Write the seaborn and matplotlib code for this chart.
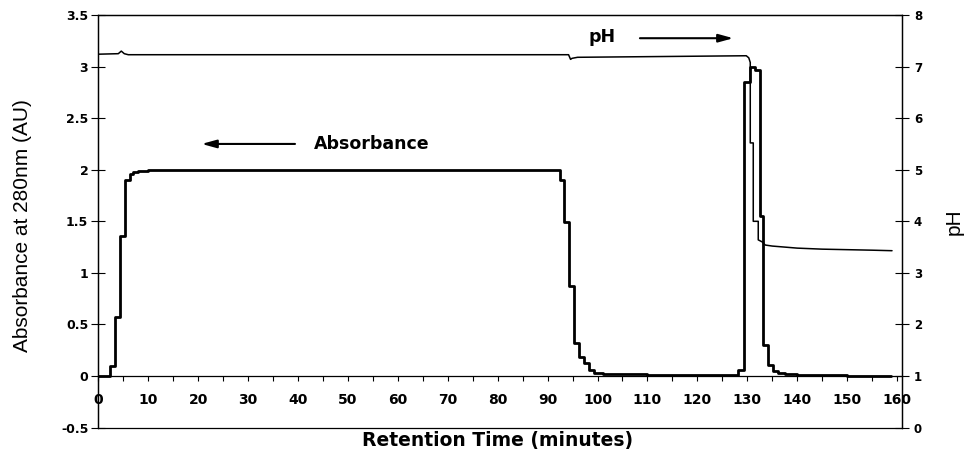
import numpy as np
import pandas as pd
import seaborn as sns
import matplotlib.pyplot as plt
from matplotlib.ticker import MultipleLocator, FixedLocator

# Absorbance at 280nm (AU), step trace: value holds from each time to the next
abs_time = [0, 2.3, 3.3, 4.3, 5.3, 6.3, 7.0, 8.0, 10.0, 13.0,
            92.4, 93.2, 94.2, 95.2, 96.2, 97.2, 98.2, 99.2, 101, 110, 120,
            128.2, 129.4, 130.6, 131.6, 132.6, 133.2, 134.2, 135.2, 136.2,
            137.5, 140, 150, 158.8]
abs_value = [0.0, 0.1, 0.57, 1.36, 1.90, 1.96, 1.975, 1.985, 1.995, 2.0,
             1.90, 1.49, 0.87, 0.32, 0.18, 0.125, 0.06, 0.025, 0.015, 0.01, 0.01,
             0.06, 2.85, 3.0, 2.97, 1.55, 0.30, 0.11, 0.05, 0.03,
             0.015, 0.01, 0.005, 0.005]

# pH trace
ph_time = [0, 4.0, 4.6, 5.2, 6.0, 94.2, 94.6, 94.9, 96.0, 129.8, 130.3, 130.6,
           130.6, 131.2, 131.2, 132.2, 132.2, 133.0, 133.6, 135, 140, 145, 150, 155, 159]
ph_value = [7.24, 7.25, 7.30, 7.25, 7.23, 7.23, 7.14, 7.16, 7.18, 7.21, 7.17, 7.08,
            5.52, 5.52, 4.00, 4.00, 3.64, 3.60, 3.54, 3.52, 3.48, 3.46, 3.45, 3.44, 3.43]

abs_ticks = [-0.5, 0, 0.5, 1, 1.5, 2, 2.5, 3, 3.5]
abs_tick_labels = ["-0.5", "0", "0.5", "1", "1.5", "2", "2.5", "3", "3.5"]
ph_ticks = [0, 1, 2, 3, 4, 5, 6, 7, 8]

df_abs = pd.DataFrame({"time": abs_time, "absorbance": abs_value})
df_ph = pd.DataFrame({"time": ph_time, "ph": ph_value})

sns.set_style("ticks")
plt.rcParams["font.family"] = ["DejaVu Sans"]
plt.rcParams["axes.unicode_minus"] = False
for key in ("text.color", "axes.labelcolor", "xtick.color", "ytick.color", "axes.edgecolor"):
    plt.rcParams[key] = "black"

fig = plt.figure(figsize=(9.64, 4.66), dpi=100)
ax = fig.add_axes([0.102, 0.0824, 0.8337, 0.8854])
ax2 = ax.twinx()

sns.lineplot(data=df_abs, x="time", y="absorbance", ax=ax, color="black",
             linewidth=2.0, drawstyle="steps-post", estimator=None, sort=False)
sns.lineplot(data=df_ph, x="time", y="ph", ax=ax2, color="black",
             linewidth=1.1, estimator=None, sort=False)

ax.set_xlim(0, 161)
ax.set_ylim(-0.5, 3.5)
ax2.set_ylim(0, 8)

# x axis sits on absorbance = 0, frame bottom comes from the twin axes
ax.spines["bottom"].set_position(("data", 0))
for a in (ax, ax2):
    for s in a.spines.values():
        s.set_linewidth(0.9)
        s.set_color("black")

ax.xaxis.set_major_locator(MultipleLocator(10))
ax.xaxis.set_minor_locator(MultipleLocator(5))
ax.tick_params(axis="x", which="both", direction="out", length=3.5, width=0.8,
               pad=9, labelsize=10, colors="black")
ax.yaxis.set_major_locator(FixedLocator(abs_ticks))
ax.set_yticklabels(abs_tick_labels)
ax.tick_params(axis="y", direction="inout", length=9.5, width=0.8, pad=2.5,
               labelsize=9, colors="black")
ax2.yaxis.set_major_locator(FixedLocator(ph_ticks))
ax2.tick_params(axis="y", direction="inout", length=10, width=0.8, pad=3.5,
                labelsize=8.5, colors="black")
for lab in ax.get_xticklabels() + ax.get_yticklabels() + ax2.get_yticklabels():
    lab.set_fontweight("bold")

ax.set_xlabel("Retention Time (minutes)", fontsize=13.5, fontweight="bold", color="black")
ax.xaxis.set_label_coords(0.497, -0.008)
ax.set_ylabel("Absorbance at 280nm (AU)", fontsize=15, family="Liberation Sans", color="black")
ax.yaxis.set_label_coords(-0.083, 0.49)
ax2.set_ylabel("pH", fontsize=15, family="Liberation Sans", rotation=90, color="black")
ax2.yaxis.set_label_coords(1.053, 0.498)

arrow_style = "-|>,head_length=0.8,head_width=0.22"
ax.annotate("", xy=(20.7, 2.25), xytext=(39.4, 2.25),
            arrowprops=dict(arrowstyle=arrow_style, color="black", lw=1.5,
                            mutation_scale=11, shrinkA=0, shrinkB=0))
ax.text(54.7, 2.25, "Absorbance", ha="center", va="center", fontsize=12.5,
        fontweight="bold", color="black")
ax.annotate("", xy=(127.2, 3.275), xytext=(108.5, 3.275),
            arrowprops=dict(arrowstyle=arrow_style, color="black", lw=1.5,
                            mutation_scale=11, shrinkA=0, shrinkB=0))
ax.text(101.0, 3.29, "pH", ha="center", va="center", fontsize=12.5,
        fontweight="bold", color="black")

fig.savefig("out.png", dpi=100)
